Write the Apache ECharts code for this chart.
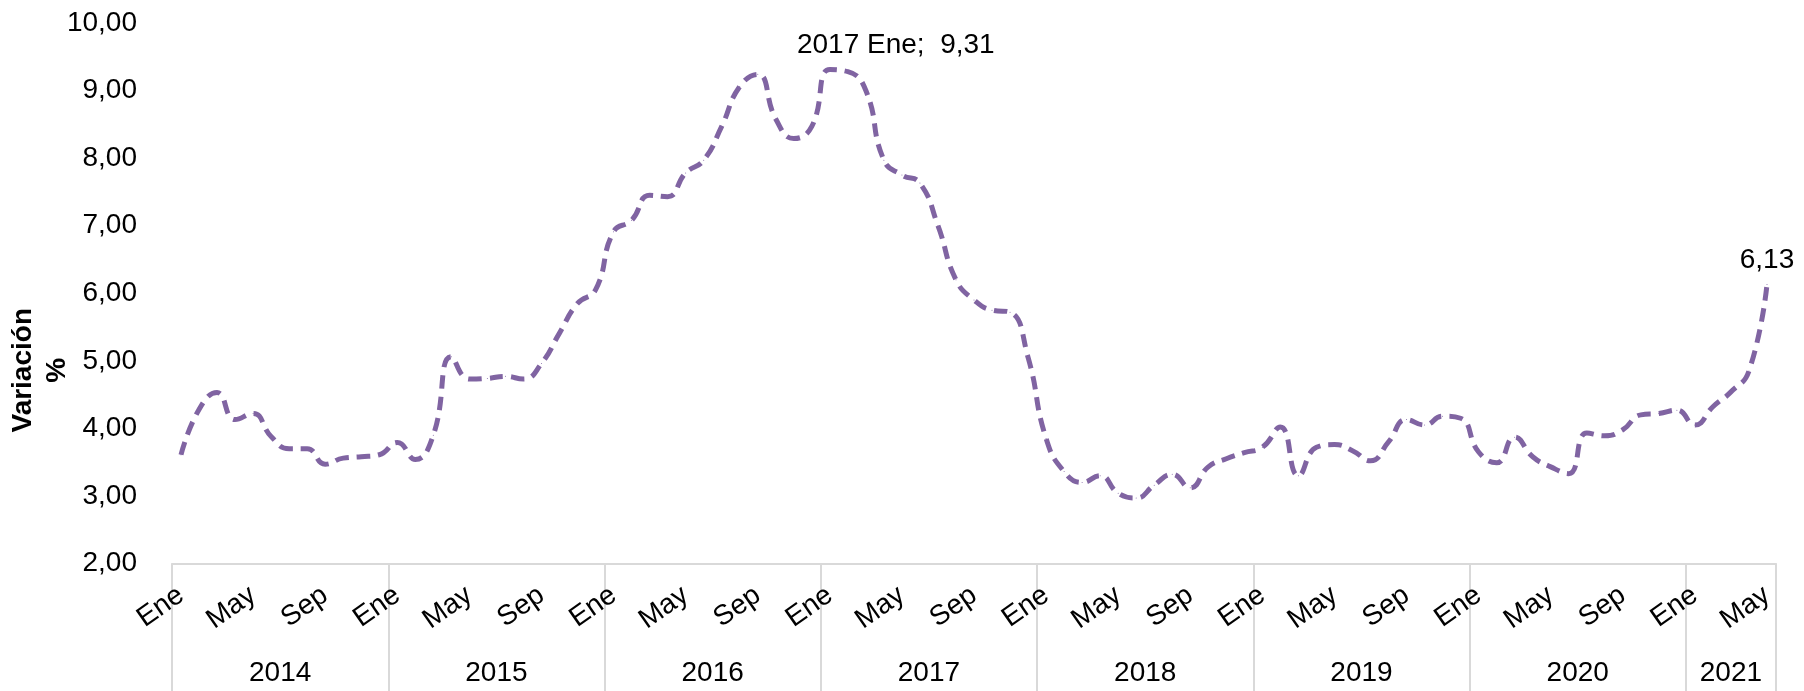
<!DOCTYPE html>
<html>
<head>
<meta charset="utf-8">
<script src="https://cdn.jsdelivr.net/npm/echarts@6/dist/echarts.min.js"></script>
<style>
html,body{margin:0;padding:0;background:#fff;}
#chart{width:1804px;height:691px;}
</style>
</head>
<body>
<div id="chart"></div>
<script>
// ---- data ----
const monthNames = ['Ene','Feb','Mar','Abr','May','Jun','Jul','Ago','Sep','Oct','Nov','Dic'];
const years = ['2014','2015','2016','2017','2018','2019','2020','2021'];
const values2014 = [3.61, 4.28, 4.53, 4.13, 4.22, 3.88, 3.70, 3.70, 3.47, 3.56, 3.58, 3.61];
const values2015 = [3.79, 3.54, 3.90, 5.06, 4.73, 4.74, 4.77, 4.73, 4.96, 5.41, 5.85, 6.05];
const values2016 = [6.91, 7.08, 7.45, 7.43, 7.78, 7.97, 8.47, 9.06, 9.24, 8.58, 8.29, 8.47];
const values2017 = [9.31, 9.28, 9.00, 7.97, 7.75, 7.63, 7.00, 6.20, 5.90, 5.75, 5.72, 5.05];
const values2018 = [3.85, 3.36, 3.20, 3.30, 3.04, 2.97, 3.16, 3.32, 3.12, 3.43, 3.55, 3.64];
const values2019 = [3.72, 4.02, 3.30, 3.72, 3.76, 3.67, 3.52, 3.80, 4.13, 4.05, 4.18, 4.15];
const values2020 = [3.65, 3.49, 3.87, 3.58, 3.43, 3.33, 3.93, 3.89, 3.98, 4.20, 4.22, 4.27];
const values2021 = [4.05, 4.32, 4.54, 4.85, 6.13];
const yTicks = [2, 10, 1]; // min, max, step
const labelledPoints = [36, 88]; // indices with data labels

// ---- build ----
const allValues = [].concat(values2014, values2015, values2016, values2017,
  values2018, values2019, values2020, values2021);
const categories = allValues.map((v, i) => monthNames[i % 12]);
const yearOf = i => years[Math.floor(i / 12)];
const fmt = v => v.toFixed(2).replace('.', ',');

// year label positions (in month units, measured from left band edge)
const yearPos = {};
years.forEach((y, k) => {
  const start = k * 12;
  const len = Math.min(12, allValues.length - start);
  yearPos[(start + len / 2).toFixed(1)] = y;
});

const FONT = 'Arial, "Liberation Sans", sans-serif';
const GRAY = '#d9d9d9';
const PURPLE = '#8064A2';

const seriesData = allValues.map((v, i) => {
  if (labelledPoints.indexOf(i) < 0) return v;
  const first = i === labelledPoints[0];
  return {
    value: v,
    label: {
      show: true,
      position: 'top',
      distance: 10,
      formatter: first ? (yearOf(i) + ' ' + categories[i] + ';  ' + fmt(v)) : fmt(v),
      color: '#000',
      opacity: 1,
      fontSize: 28,
      fontFamily: FONT
    }
  };
});

const chart = echarts.init(document.getElementById('chart'), null, {renderer: 'canvas'});
chart.setOption({
  animation: false,
  backgroundColor: '#fff',
  grid: {left: 172, right: 28, top: 23, bottom: 127.5, containLabel: false, outerBoundsMode: 'none'},
  xAxis: [{
    type: 'category',
    data: categories,
    boundaryGap: true,
    position: 'bottom',
    axisLine: {show: true, lineStyle: {color: GRAY, width: 2}},
    axisTick: {
      show: true,
      interval: (i) => i % 12 === 0,
      length: 130,
      lineStyle: {color: GRAY, width: 2}
    },
    axisLabel: {
      interval: (i) => i % 4 === 0,
      rotate: 35,
      margin: 29,
      color: '#000',
      fontSize: 28,
      fontFamily: FONT
    },
    splitLine: {show: false}
  }, {
    type: 'value',
    position: 'bottom',
    min: 0,
    max: allValues.length,
    interval: 0.5,
    axisLine: {show: false},
    axisTick: {show: false},
    splitLine: {show: false},
    axisLabel: {
      margin: 96,
      color: '#000',
      fontSize: 28,
      fontFamily: FONT,
      showMinLabel: true,
      showMaxLabel: true,
      formatter: (v) => yearPos[v.toFixed(1)] || ''
    }
  }],
  yAxis: {
    type: 'value',
    min: yTicks[0],
    max: yTicks[1],
    interval: yTicks[2],
    axisLine: {show: false},
    axisTick: {show: false},
    splitLine: {show: false},
    axisLabel: {
      margin: 35,
      color: '#000',
      fontSize: 28,
      fontFamily: FONT,
      formatter: fmt
    },
    name: 'Variación\n%',
    nameLocation: 'middle',
    nameRotate: 90,
    nameGap: 98,
    nameMoveOverlap: false,
    nameTextStyle: {
      color: '#000',
      fontSize: 28,
      fontWeight: 'bold',
      fontFamily: FONT,
      lineHeight: 34,
      padding: [0, 154, 0, 0]
    }
  },
  series: [{
    type: 'line',
    xAxisIndex: 0,
    data: seriesData,
    smooth: 0.5,
    symbol: 'circle',
    symbolSize: 1,
    showSymbol: true,
    showAllSymbol: true,
    itemStyle: {color: PURPLE},
    labelLayout: (p) => (p.dataIndex === labelledPoints[0] ? {dx: 66, hideOverlap: false} : {hideOverlap: false}),
    lineStyle: {color: PURPLE, width: 5, type: [13.5, 8], cap: 'butt', join: 'round'}
  }]
});
</script>
</body>
</html>
